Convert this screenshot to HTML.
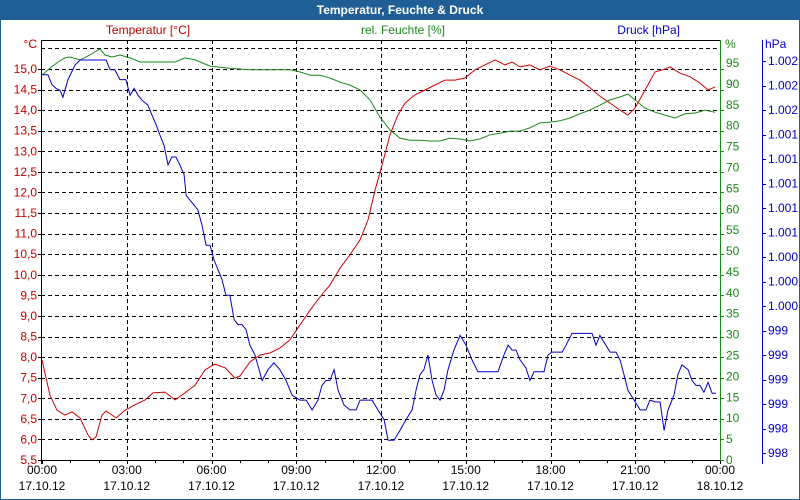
<!DOCTYPE html>
<html><head><meta charset="utf-8"><style>
body{margin:0;width:800px;height:500px;overflow:hidden;background:#fff;font-family:"Liberation Sans","DejaVu Sans",sans-serif}
#frame{position:absolute;left:0;top:0;width:798px;height:498px;border:1px solid #1f5f96;}
#title{position:absolute;left:0;top:0;width:800px;height:20px;background:#1f5f96;color:#fff;font-weight:bold;font-size:12px;text-align:center;line-height:20px}
svg{position:absolute;left:0;top:0}
</style></head><body>
<div id="frame"></div>
<div id="title">Temperatur, Feuchte &amp; Druck</div>
<svg id="c" width="800" height="500" font-family="Liberation Sans, DejaVu Sans, sans-serif" font-size="12"></svg>
<script>
const tempTicks=["5,5","6,0","6,5","7,0","7,5","8,0","8,5","9,0","9,5","10,0","10,5","11,0","11,5","12,0","12,5","13,0","13,5","14,0","14,5","15,0"];
const humTicks=[0,5,10,15,20,25,30,35,40,45,50,55,60,65,70,75,80,85,90,95];
const presTicks=["998","998","999","999","999","999","1.000","1.000","1.000","1.001","1.001","1.001","1.001","1.001","1.002","1.002","1.002"];
const timeLabels=["00:00","03:00","06:00","09:00","12:00","15:00","18:00","21:00","00:00"];
const dateLabels=["17.10.12","17.10.12","17.10.12","17.10.12","17.10.12","17.10.12","17.10.12","17.10.12","18.10.12"];
const tempHours=[0,.28,.53,.81,1.06,1.35,1.63,1.77,1.91,2.12,2.27,2.48,2.62,2.94,3.29,3.65,3.93,4.35,4.71,5.06,5.42,5.77,6.12,6.48,6.83,7.01,7.36,7.72,8.07,8.42,8.78,9.13,9.49,9.84,10.19,10.55,10.9,11.26,11.54,11.79,12.04,12.32,12.6,12.85,13.2,13.56,13.91,14.27,14.62,14.97,15.33,15.68,16.04,16.39,16.64,16.92,17.27,17.63,17.98,18.34,18.69,19.04,19.4,19.75,20.11,20.46,20.74,20.99,21.35,21.7,21.98,22.23,22.58,22.94,23.29,23.58,23.82];
const tempValues=[7.93,7.08,6.71,6.59,6.67,6.52,6.11,5.99,6.06,6.59,6.69,6.59,6.52,6.71,6.84,6.96,7.13,7.15,6.96,7.13,7.32,7.69,7.83,7.74,7.49,7.54,7.88,8.05,8.1,8.22,8.42,8.78,9.14,9.46,9.75,10.16,10.48,10.85,11.33,12.06,12.67,13.4,13.88,14.17,14.37,14.49,14.61,14.73,14.73,14.78,14.98,15.1,15.22,15.1,15.17,15.05,15.1,14.98,15.07,14.98,14.85,14.73,14.54,14.34,14.17,14.0,13.88,14.05,14.49,14.93,14.98,15.05,14.9,14.81,14.66,14.49,14.56];
const humHours=[0,.28,.57,.81,.99,1.35,1.7,2.05,2.23,2.48,2.76,3.12,3.47,4.18,4.71,5.06,5.42,5.95,6.65,7.36,8.07,8.78,9.13,9.49,9.84,10.19,10.55,10.9,11.26,11.61,11.96,12.32,12.67,13.03,13.38,13.73,14.09,14.44,14.8,15.15,15.5,15.86,16.21,16.57,16.92,17.27,17.63,17.98,18.34,18.69,19.04,19.4,19.75,20.11,20.46,20.74,20.99,21.35,21.7,22.05,22.41,22.76,23.12,23.47,23.82];
const humValues=[93.5,95.2,96.7,97.7,97.9,97.2,98.4,99.9,98.4,97.9,98.4,97.7,96.7,96.7,96.7,97.7,97.2,95.7,95.2,94.8,94.8,94.8,94.3,93.5,93.5,92.8,91.8,91.1,89.9,87.5,83.3,80.2,78.2,77.7,77.7,77.5,77.5,78.2,78.0,77.5,78.0,79.0,79.4,79.9,79.9,80.7,81.9,82.1,82.4,83.1,84.1,85.0,86.2,87.5,88.2,88.9,87.5,85.5,84.5,83.8,83.1,84.1,84.3,85.0,84.5];
const presHours=[0,.21,.35,.5,.64,.74,.92,1.17,1.35,2.05,2.27,2.41,2.58,2.76,2.97,3.12,3.26,3.4,3.54,3.75,3.89,4.04,4.18,4.32,4.46,4.6,4.74,4.88,5.03,5.1,5.24,5.38,5.52,5.66,5.81,5.95,6.09,6.23,6.37,6.51,6.65,6.8,6.94,7.08,7.22,7.36,7.54,7.79,8.0,8.21,8.42,8.64,8.85,9.13,9.35,9.56,9.77,9.91,10.05,10.19,10.34,10.48,10.69,10.9,11.12,11.26,11.68,11.89,12.11,12.25,12.46,12.67,12.88,13.1,13.24,13.38,13.52,13.66,13.81,13.95,14.09,14.23,14.37,14.58,14.8,15.01,15.22,15.43,15.65,16.14,16.35,16.5,16.64,16.78,16.92,17.13,17.27,17.42,17.77,17.91,18.05,18.41,18.55,18.76,19.47,19.61,19.75,19.96,20.11,20.32,20.46,20.6,20.74,20.96,21.17,21.38,21.52,21.73,21.88,22.02,22.16,22.37,22.51,22.65,22.87,23.01,23.15,23.29,23.43,23.58,23.72,23.86];
const presValues=[1001.86,1001.86,1001.76,1001.72,1001.70,1001.63,1001.81,1001.96,1002.01,1002.01,1002.01,1001.91,1001.91,1001.81,1001.81,1001.65,1001.72,1001.65,1001.60,1001.55,1001.45,1001.35,1001.24,1001.14,1000.94,1001.02,1001.02,1000.94,1000.84,1000.63,1000.58,1000.53,1000.48,1000.33,1000.12,1000.12,999.97,999.87,999.77,999.61,999.61,999.36,999.31,999.31,999.26,999.10,999.0,998.74,998.85,998.92,998.85,998.74,998.59,998.54,998.54,998.44,998.54,998.69,998.74,998.74,998.85,998.64,998.49,998.44,998.44,998.54,998.54,998.44,998.34,998.13,998.13,998.23,998.34,998.44,998.64,998.80,998.85,999.0,998.74,998.59,998.54,998.64,998.85,999.05,999.20,999.10,998.95,998.83,998.83,998.83,999.0,999.10,999.05,999.05,998.95,998.87,998.74,998.83,998.83,999.0,999.03,999.03,999.10,999.22,999.22,999.10,999.20,999.10,999.03,999.03,998.95,998.80,998.64,998.54,998.44,998.44,998.54,998.52,998.52,998.23,998.44,998.59,998.80,998.90,998.85,998.74,998.69,998.69,998.62,998.72,998.61,998.61];

const L=41,R=720,T=40,B=460;
const x=h=>L+1+h*(R-L-1)/24;
const ty=v=>B-(v-5.5)*41.16;
const hy=v=>B-v*4.116;
const py=v=>453-(v-998)*98;
const svg=document.getElementById('c');
const NS='http://www.w3.org/2000/svg';
function mk(tag,attrs,parent){const e=document.createElementNS(NS,tag);for(const k in attrs)e.setAttribute(k,attrs[k]);(parent||svg).appendChild(e);return e;}
function txt(s,x0,y0,fill,anchor){const e=mk('text',{x:x0,y:y0,fill:fill,'text-anchor':anchor||'start'});e.textContent=s;return e;}

const grid=mk('g',{stroke:'#000','stroke-dasharray':'4,3','stroke-width':1});


tempTicks.forEach((t,i)=>{const y=Math.round(ty(5.5+i*0.5))+0.5;mk('line',{x1:L,x2:R,y1:y,y2:y},grid);});
const yTop=Math.round(ty(15.5))+0.5;mk('line',{x1:L,x2:R,y1:yTop,y2:yTop},grid);
timeLabels.forEach((t,i)=>{if(i==0||i==8)return;const xx=Math.round(x(i*3))+0.5;mk('line',{x1:xx,x2:xx,y1:T,y2:B},grid);});
mk('line',{x1:L+.5,x2:L+.5,y1:T,y2:B+4,stroke:'#000'});
mk('line',{x1:L,x2:R,y1:T+.5,y2:T+.5,stroke:'#000'});
mk('line',{x1:L,x2:R,y1:B+.5,y2:B+.5,stroke:'#000'});
mk('line',{x1:R+.5,x2:R+.5,y1:T,y2:B+4,stroke:'#1a8a1a'});
mk('line',{x1:762.5,x2:762.5,y1:T,y2:B+4,stroke:'#0000cc'});
for(let i=0;i<=24;i++){const xx=Math.round(x(i))+0.5;mk('line',{x1:xx,x2:xx,y1:B,y2:B+(i%3==0?4:3),stroke:'#000'});}

const la=mk('g',{});
tempTicks.forEach((t,i)=>{const y=ty(5.5+i*0.5);mk('line',{x1:L-3,x2:L,y1:Math.round(y)+.5,y2:Math.round(y)+.5,stroke:'#000'},la);la.appendChild(txt(t,37,y+4,'#c00000','end'));});
txt('°C',37,48,'#c00000','end');
const ha=mk('g',{});
humTicks.forEach(v=>{const y=hy(v);mk('line',{x1:R,x2:R+4,y1:Math.round(y)+.5,y2:Math.round(y)+.5,stroke:'#1a8a1a'},ha);ha.appendChild(txt(String(v),726,y+4-v*0.063,'#1a8a1a'));});
txt('%',725,48,'#1a8a1a');
const pa=mk('g',{});
presTicks.forEach((t,i)=>{const y=py(998+i*0.25);mk('line',{x1:762,x2:766,y1:Math.round(y)+.5,y2:Math.round(y)+.5,stroke:'#0000cc'},pa);pa.appendChild(txt(t,768,y+4,'#0000cc'));});
txt('hPa',765,48,'#0000cc');
const xa=mk('g',{});
timeLabels.forEach((t,i)=>{const xx=x(i*3);xa.appendChild(txt(t,xx,474,'#000','middle'));xa.appendChild(txt(dateLabels[i],xx,490,'#000','middle'));});
const t1=txt('Temperatur [°C]',148,34,'#c00000','middle');
const t2=txt('rel. Feuchte [%]',403,34,'#1a8a1a','middle');
const t3=txt('Druck [hPa]',680,34,'#0000cc','end');

function line(hs,vs,f,col,name){const p=hs.map((h,i)=>x(h).toFixed(1)+','+f(vs[i]).toFixed(1)).join(' ');const e=mk('polyline',{points:p,fill:'none',stroke:col,'stroke-width':1});}
line(humHours,humValues,hy,'#1a8a1a','humidity-line');
line(presHours,presValues,py,'#0000cc','pressure-line');
line(tempHours,tempValues,ty,'#d00000','temperature-line');
</script>
</body></html>
